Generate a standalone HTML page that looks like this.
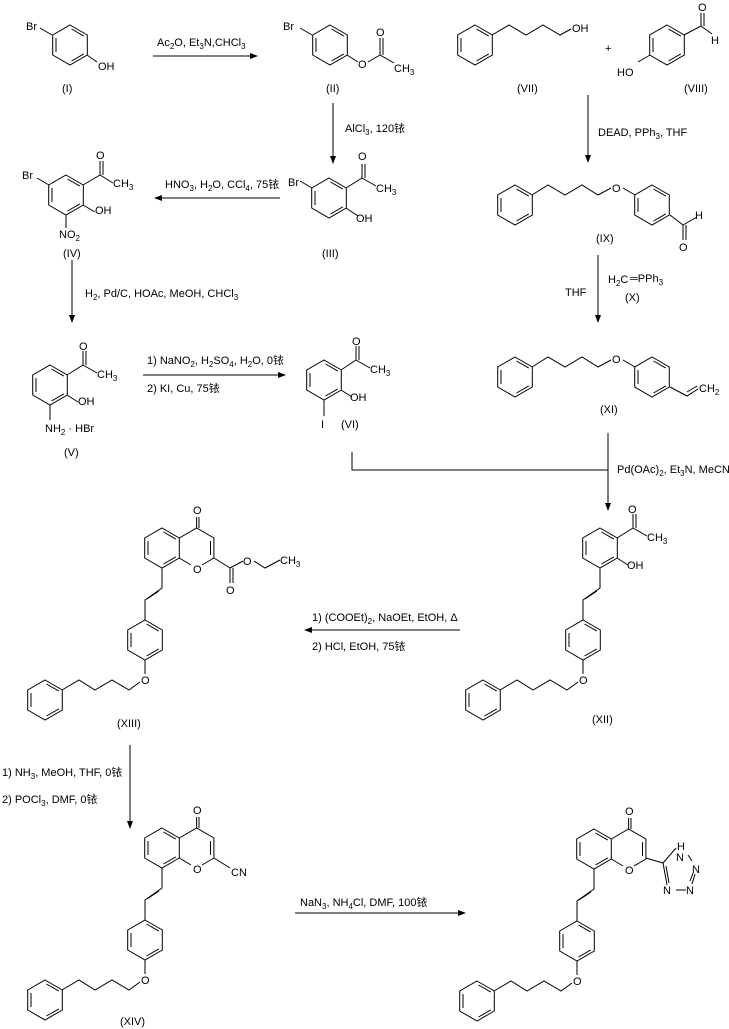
<!DOCTYPE html>
<html><head><meta charset="utf-8"><style>
html,body{margin:0;padding:0;background:#fff;}
svg{display:block;}
text{font-family:"Liberation Sans","Noto Sans CJK SC",sans-serif;font-size:11px;fill:#000;}
.s{font-size:8px;}
</style></head><body>
<svg width="729" height="1029" viewBox="0 0 729 1029" xmlns="http://www.w3.org/2000/svg">
<defs>
<g id="hx" fill="none" stroke="#000" stroke-width="1">
<path d="M0,-20 L17.3,-10 L17.3,10 L0,20 L-17.3,10 L-17.3,-10 Z"/>
<path d="M1.5,-16 L13.8,-8.9 M13.8,8.9 L1.5,16 M-14,7 L-14,-7"/>
</g>
<marker id="ah" markerWidth="8" markerHeight="6" refX="7" refY="3" orient="auto" markerUnits="userSpaceOnUse">
<path d="M0,0 L8,3 L0,6 Z" fill="#000"/></marker>
<g id="sty">
<g fill="none" stroke="#000" stroke-width="1">
<path d="M0,0 L0,20 L-17,32 L-17,52"/>
<path d="M-3,23 L-15,31"/>
<path d="M-17,92 L-17,106 M-22,114 L-33,122 L-50,112 L-67,122 L-83,112 L-100,122"/>
</g>
<use href="#hx" x="-17" y="72"/>
<use href="#hx" x="-117" y="132"/>
<text x="-21" y="116">O</text>
</g>
<g id="chr">
<use href="#hx" x="0" y="0"/>
<g fill="none" stroke="#000" stroke-width="1">
<path d="M17.3,-10 L34.6,-20 L51.9,-10 L51.9,10 L40,17 M29,17 L17.3,10"/>
<path d="M48.5,-7 L48.5,7"/>
<path d="M34.6,-20 L34.6,-31 M37,-20 L37,-31"/>
</g>
<text x="31" y="25">O</text>
<text x="31" y="-34">O</text>
</g>
</defs>

<g fill="none" stroke="#000" stroke-width="1">
<path d="M153,56 L257,56" marker-end="url(#ah)"/>
<path d="M333,103 L333,163" marker-end="url(#ah)"/>
<path d="M280,198 L155,198" marker-end="url(#ah)"/>
<path d="M588,95 L588,162" marker-end="url(#ah)"/>
<path d="M598,255 L598,322" marker-end="url(#ah)"/>
<path d="M72,260 L72,322" marker-end="url(#ah)"/>
<path d="M143,375 L285,375" marker-end="url(#ah)"/>
<path d="M352,452 L352,470 L608,470 M608,433 L608,510" marker-end="url(#ah)"/>
<path d="M460,630 L305,630" marker-end="url(#ah)"/>
<path d="M130,745 L130,828" marker-end="url(#ah)"/>
<path d="M295,913 L465,913" marker-end="url(#ah)"/>

<path d="M52,35 L40,28 M87,55 L97,62"/>
<path d="M312,35 L300,28 M347,55 L358,62 M368,62 L380,55 L380,38 M383,55 L383,38 M380,55 L394,63"/>
<path d="M312,188 L300,181 M346,188 L362,178 L362,164 M365,178 L365,164 M362,178 L376,186 M346,208 L358,216"/>
<path d="M49,185 L37,178 M83,185 L100,175 L100,161 M103,175 L103,161 M100,175 L113,183 M83,205 L95,212 M66,215 L66,228"/>
<path d="M67,375 L83,365 L83,351 M86,365 L86,351 M83,365 L97,373 M67,395 L78,402 M50,405 L50,420"/>
<path d="M341,370 L356,360 L356,346 M359,360 L359,346 M356,360 L370,368 M341,390 L352,397 M324,400 L324,416"/>
<path d="M492,35 L509,25 L526,35 L543,25 L560,35 L571,29"/>
<!-- VIII -->
<path d="M684,35 L701,26 L701,13 M704,26 L704,13 M701,26 L712,34 M650,55 L638,62"/>
<path d="M532,195 L548,185 L565,195 L582,185 L598,195 L611,188 M623,188 L635,195 M670,215 L683,225 L683,240 M686,225 L686,240 M683,225 L697,217"/>
<path d="M532,367 L548,357 L565,367 L582,357 L598,367 L611,360 M623,360 L635,367 M670,387 L687,396 L698,389 M687,392 L697,386"/>
<path d="M617,538 L633,528 L633,514 M636,528 L636,514 M633,528 L647,536 M617,558 L628,565"/>
<path d="M214,558 L230,568 L230,583 M233,568 L233,583 M230,568 L243,561 M254,561 L265,568 L280,560"/>
<path d="M214,858 L230,868"/>
<path d="M646,858 L663,863 L676,848 M663,863 L667,885 M666,866 L669,883 M676,890 L686,890 M692,884 L695,874 M690,881 L693,873 M692,861 L688,855"/>
</g>

<use href="#hx" x="70" y="45"/>
<use href="#hx" x="330" y="45"/>
<use href="#hx" x="329" y="198"/>
<use href="#hx" x="66" y="195"/>
<use href="#hx" x="50" y="385"/>
<use href="#hx" x="324" y="380"/>
<use href="#hx" x="475" y="45"/>
<use href="#hx" x="667" y="45"/>
<use href="#hx" x="515" y="205"/>
<use href="#hx" x="652" y="205"/>
<use href="#hx" x="515" y="377"/>
<use href="#hx" x="652" y="377"/>
<use href="#hx" x="600" y="548"/>
<use href="#sty" x="600" y="568"/>
<use href="#chr" x="162" y="548"/>
<use href="#sty" x="162" y="568"/>
<use href="#chr" x="162" y="848"/>
<use href="#sty" x="162" y="868"/>
<use href="#chr" x="594" y="849"/>
<use href="#sty" x="594" y="869"/>

<text x="26" y="30">Br</text>
<text x="98" y="70">OH</text>
<text x="62" y="92">(I)</text>
<text x="283" y="30">Br</text>
<text x="358" y="68">O</text>
<text x="376" y="36">O</text>
<text x="394" y="72">CH<tspan class="s" dy="3">3</tspan></text>
<text x="326" y="92">(II)</text>
<text x="157" y="46">Ac<tspan class="s" dy="3">2</tspan><tspan dy="-3">O, Et</tspan><tspan class="s" dy="3">3</tspan><tspan dy="-3">N,CHCl</tspan><tspan class="s" dy="3">3</tspan></text>
<text x="345" y="132">AlCl<tspan class="s" dy="3">3</tspan><tspan dy="-3">, 120铱</tspan></text>
<text x="288" y="186">Br</text>
<text x="358" y="160">O</text>
<text x="376" y="192">CH<tspan class="s" dy="3">3</tspan></text>
<text x="356" y="222">OH</text>
<text x="322" y="257">(III)</text>
<text x="165" y="188">HNO<tspan class="s" dy="3">3</tspan><tspan dy="-3">, H</tspan><tspan class="s" dy="3">2</tspan><tspan dy="-3">O, CCl</tspan><tspan class="s" dy="3">4</tspan><tspan dy="-3">, 75铱</tspan></text>
<text x="22" y="179">Br</text>
<text x="96" y="159">O</text>
<text x="113" y="187">CH<tspan class="s" dy="3">3</tspan></text>
<text x="95" y="214">OH</text>
<text x="59" y="238">NO<tspan class="s" dy="3">2</tspan></text>
<text x="63" y="257">(IV)</text>
<text x="85" y="297">H<tspan class="s" dy="3">2</tspan><tspan dy="-3">, Pd/C, HOAc, MeOH, CHCl</tspan><tspan class="s" dy="3">3</tspan></text>
<text x="79" y="350">O</text>
<text x="97" y="378">CH<tspan class="s" dy="3">3</tspan></text>
<text x="78" y="405">OH</text>
<text x="45" y="432">NH<tspan class="s" dy="3">2</tspan><tspan dy="-3">  · HBr</tspan></text>
<text x="64" y="456">(V)</text>
<text x="147" y="364">1) NaNO<tspan class="s" dy="3">2</tspan><tspan dy="-3">, H</tspan><tspan class="s" dy="3">2</tspan><tspan dy="-3">SO</tspan><tspan class="s" dy="3">4</tspan><tspan dy="-3">, H</tspan><tspan class="s" dy="3">2</tspan><tspan dy="-3">O, 0铱</tspan></text>
<text x="147" y="392">2) KI, Cu, 75铱</text>
<text x="352" y="345">O</text>
<text x="370" y="373">CH<tspan class="s" dy="3">3</tspan></text>
<text x="350" y="401">OH</text>
<text x="321" y="428">I</text>
<text x="341" y="428">(VI)</text>
<text x="572" y="32">OH</text>
<text x="517" y="92">(VII)</text>
<text x="605" y="52">+</text>
<text x="698" y="11">O</text>
<text x="711" y="44">H</text>
<text x="617" y="76">HO</text>
<text x="684" y="92">(VIII)</text>
<text x="598" y="136">DEAD, PPh<tspan class="s" dy="3">3</tspan><tspan dy="-3">, THF</tspan></text>
<text x="612" y="192">O</text>
<text x="695" y="219">H</text>
<text x="679" y="251">O</text>
<text x="596" y="242">(IX)</text>
<text x="565" y="296">THF</text>
<text x="608" y="283">H<tspan class="s" dy="3">2</tspan><tspan dy="-3">C</tspan></text>
<text x="630" y="282">═PPh<tspan class="s" dy="3">3</tspan></text>
<text x="625" y="301">(X)</text>
<text x="612" y="363">O</text>
<text x="699" y="392">CH<tspan class="s" dy="3">2</tspan></text>
<text x="600" y="413">(XI)</text>
<text x="617" y="473">Pd(OAc)<tspan class="s" dy="3">2</tspan><tspan dy="-3">, Et</tspan><tspan class="s" dy="3">3</tspan><tspan dy="-3">N, MeCN</tspan></text>
<text x="628" y="513">O</text>
<text x="647" y="541">CH<tspan class="s" dy="3">3</tspan></text>
<text x="627" y="569">OH</text>
<text x="592" y="723">(XII)</text>
<text x="312" y="621">1) (COOEt)<tspan class="s" dy="3">2</tspan><tspan dy="-3">, NaOEt, EtOH, Δ</tspan></text>
<text x="312" y="650">2) HCl, EtOH, 75铱</text>
<text x="226" y="594">O</text>
<text x="243" y="565">O</text>
<text x="280" y="564">CH<tspan class="s" dy="3">3</tspan></text>
<text x="117" y="727">(XIII)</text>
<text x="2" y="776">1) NH<tspan class="s" dy="3">3</tspan><tspan dy="-3">, MeOH, THF, 0铱</tspan></text>
<text x="2" y="803">2) POCl<tspan class="s" dy="3">3</tspan><tspan dy="-3">, DMF, 0铱</tspan></text>
<text x="231" y="876">CN</text>
<text x="120" y="1025">(XIV)</text>
<text x="300" y="906">NaN<tspan class="s" dy="3">3</tspan><tspan dy="-3">, NH</tspan><tspan class="s" dy="3">4</tspan><tspan dy="-3">Cl, DMF, 100铱</tspan></text>
<text x="677" y="850">H</text>
<text x="676" y="861">N</text>
<text x="692" y="873">N</text>
<text x="686" y="894">N</text>
<text x="663" y="894">N</text>
</svg>
</body></html>
